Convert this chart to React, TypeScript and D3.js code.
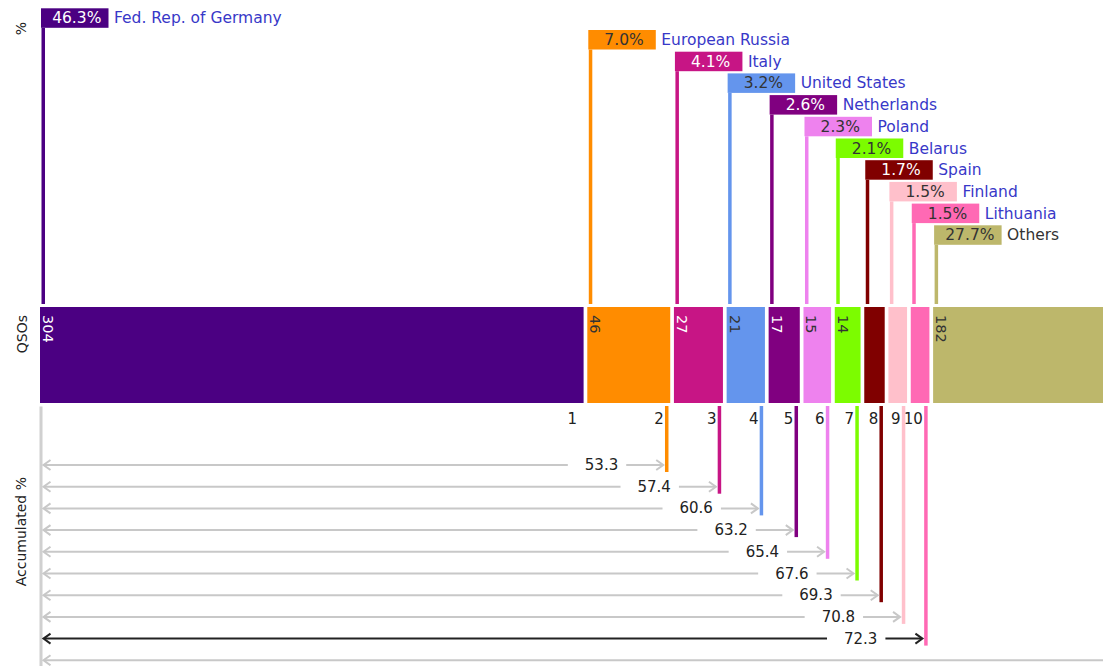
import React from "react";
import * as d3 from "d3";

// ---- data ----
const countries = [
  "Fed. Rep. of Germany",
  "European Russia",
  "Italy",
  "United States",
  "Netherlands",
  "Poland",
  "Belarus",
  "Spain",
  "Finland",
  "Lithuania",
  "Others",
];
const qsos = [304, 46, 27, 21, 17, 15, 14, 11, 10, 10, 182];
const palette = [
  "#4B0082",
  "#FF8C00",
  "#C71585",
  "#6495ED",
  "#800080",
  "#EE82EE",
  "#7CFC00",
  "#800000",
  "#FFC0CB",
  "#FF69B4",
  "#BDB76B",
];
const lightOnDark = [true, false, true, false, true, false, false, true, false, false, false];
const highlightIndex = 9;

// ---- layout ----
const W = 1103;
const H = 666;
const X0 = 40;
const K = 1.7855;
const GAP = 4.5;
const ROW = 21.7;
const BOX_TOP = 8.3;
const BOX_H = 19.5;
const BOX_W = 67.5;
const BAND_TOP = 307;
const BAND_BOTTOM = 403;
const ARROW_TOP = 465;
const FONT = "'DejaVu Sans', Verdana, sans-serif";

export default function App() {
  const total = d3.sum(qsos);
  const cumBefore = qsos.map((_, i) => d3.sum(qsos.slice(0, i)));
  const cumAfter = qsos.map((_, i) => d3.sum(qsos.slice(0, i + 1)));
  const xScale = d3.scaleLinear().domain([0, total]).range([0, total * K]);
  const fmt = d3.format(".1f");

  const barX = (i: number) => X0 + xScale(cumBefore[i]) + i * GAP;
  const barW = (i: number) => xScale(qsos[i]) + 0.8;
  const barR = (i: number) => barX(i) + barW(i);
  const rowY = (i: number) => ARROW_TOP + (i - 1) * ROW;

  const gray = "#c8c8c8";
  const dark = "#222";
  const labelW = 33.4;

  return (
    <svg
      width={W}
      height={H}
      style={{ position: "absolute", left: 0, top: 0, background: "#fff" }}
      fontFamily={FONT}
    >
      {/* axis titles */}
      <text transform="translate(26,22) rotate(-90)" textAnchor="end" fontSize={14} fill="#222">
        %
      </text>
      <text transform="translate(27,315) rotate(-90)" textAnchor="end" fontSize={14} fill="#222">
        QSOs
      </text>
      <text transform="translate(26,477) rotate(-90)" textAnchor="end" fontSize={14} fill="#222">
        Accumulated %
      </text>

      {/* top section: percentage labels */}
      {qsos.map((q, i) => {
        const bx = barX(i) + 1;
        const by = BOX_TOP + i * ROW;
        return (
          <g key={"top" + i}>
            <rect
              x={barX(i) + 1.5}
              y={by + BOX_H}
              width={3.5}
              height={BAND_TOP - 3 - (by + BOX_H)}
              fill={palette[i]}
            />
            <rect x={bx} y={by} width={BOX_W} height={BOX_H} fill={palette[i]} />
            <text
              x={bx + BOX_W / 2 + 2}
              y={by + 15}
              textAnchor="middle"
              fontSize={15.5}
              fill={lightOnDark[i] ? "#fff" : "#333"}
            >
              {fmt((q / total) * 100) + "%"}
            </text>
            <text
              x={bx + BOX_W + 5.5}
              y={by + 15}
              fontSize={15.5}
              fill={i === qsos.length - 1 ? "#333" : "#3838c8"}
            >
              {countries[i]}
            </text>
          </g>
        );
      })}

      {/* middle band: QSO bars */}
      {qsos.map((q, i) => (
        <g key={"bar" + i}>
          <rect
            x={barX(i)}
            y={BAND_TOP}
            width={barW(i)}
            height={BAND_BOTTOM - BAND_TOP}
            fill={palette[i]}
          />
          {barW(i) > 22 && (
            <text
              transform={`translate(${barX(i) + 3},${BAND_TOP + 8}) rotate(90)`}
              fontSize={14.5}
              fill={lightOnDark[i] ? "#fff" : "#333"}
            >
              {q}
            </text>
          )}
        </g>
      ))}

      {/* bottom section: index numbers (only those inside the view) */}
      {qsos.map((_, i) =>
        barR(i) - 6.5 < W ? (
          <text
            key={"idx" + i}
            x={barR(i) - 6.5}
            y={424}
            textAnchor="end"
            fontSize={15}
            fill="#222"
          >
            {i + 1}
          </text>
        ) : null
      )}

      {/* left gray axis */}
      <rect x={39.5} y={406.5} width={3} height={H - 406.5} fill="#d0d0d0" />

      {/* accumulated arrows */}
      {qsos.map((_, i) => {
        if (i === 0) return null;
        const y = rowY(i);
        const tip = barR(i) - 7;
        const col = i === highlightIndex ? dark : gray;
        const textRight = tip - 45;
        const leftEnd = textRight - labelW - 17;
        return (
          <g key={"acc" + i}>
            <rect
              x={barR(i) - 5.25}
              y={406}
              width={3.5}
              height={y + 7 - 406}
              fill={palette[i]}
            />
            <line x1={44} y1={y} x2={leftEnd} y2={y} stroke={col} strokeWidth={2} />
            <line x1={tip - 37} y1={y} x2={tip - 0.5} y2={y} stroke={col} strokeWidth={2} />
            <polyline
              points={`${tip - 7},${y - 5} ${tip},${y} ${tip - 7},${y + 5}`}
              fill="none"
              stroke={col}
              strokeWidth={2}
            />
            <polyline
              points={`${50.5},${y - 5} ${43.5},${y} ${50.5},${y + 5}`}
              fill="none"
              stroke={col}
              strokeWidth={2}
            />
            {textRight < W && (
              <text x={textRight} y={y + 5} textAnchor="end" fontSize={15} fill="#222">
                {fmt((cumAfter[i] / total) * 100)}
              </text>
            )}
          </g>
        );
      })}
    </svg>
  );
}
